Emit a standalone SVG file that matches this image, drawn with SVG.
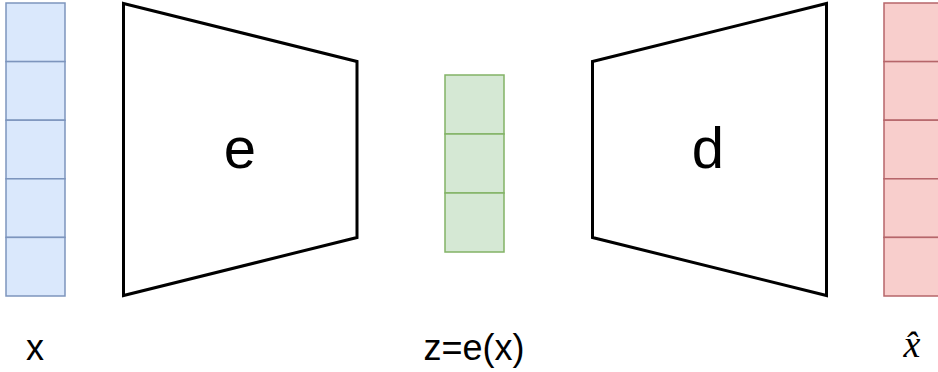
<svg xmlns="http://www.w3.org/2000/svg" width="938" height="372" viewBox="0 0 938 372">
<style>
.blue{fill:#dae8fc;stroke:#7d95bd;stroke-width:1.5}
.green{fill:#d5e8d4;stroke:#82b366;stroke-width:1.5}
.red{fill:#f8cecc;stroke:#b6666a;stroke-width:1.5}
.trap{fill:#ffffff;stroke:#000000;stroke-width:3;stroke-linejoin:miter}
.big{font-family:"Liberation Sans",Arial,sans-serif;font-size:58px;fill:#000;text-anchor:middle}
.lbl{font-family:"Liberation Sans",Arial,sans-serif;font-size:36px;fill:#000;text-anchor:middle}
.math{font-family:"Liberation Serif","Times New Roman",serif;font-style:italic;font-size:38px;fill:#000;text-anchor:middle}
</style>
<rect width="938" height="372" fill="#ffffff"/>
<g id="input-x">
<rect class="blue" x="6" y="3" width="59" height="58.6"/>
<rect class="blue" x="6" y="61.6" width="59" height="58.6"/>
<rect class="blue" x="6" y="120.2" width="59" height="58.6"/>
<rect class="blue" x="6" y="178.8" width="59" height="58.6"/>
<rect class="blue" x="6" y="237.4" width="59" height="58.6"/>
</g>
<g id="encoder">
<polygon class="trap" points="123.5,3.5 357,61.5 357,237.5 123.5,295.5"/>
<text class="big" x="240" y="168">e</text>
</g>
<g id="latent-z">
<rect class="green" x="445" y="75" width="59" height="59"/>
<rect class="green" x="445" y="134" width="59" height="59"/>
<rect class="green" x="445" y="193" width="59" height="59"/>
</g>
<g id="decoder">
<polygon class="trap" points="592.5,61.5 826.5,3.5 826.5,295.5 592.5,237.5"/>
<text class="big" x="708" y="168">d</text>
</g>
<g id="output-xhat">
<rect class="red" x="884" y="3" width="59" height="58.6"/>
<rect class="red" x="884" y="61.6" width="59" height="58.6"/>
<rect class="red" x="884" y="120.2" width="59" height="58.6"/>
<rect class="red" x="884" y="178.8" width="59" height="58.6"/>
<rect class="red" x="884" y="237.4" width="59" height="58.6"/>
</g>
<g id="connectors"></g>
<g id="labels">
<text class="lbl" x="35" y="360">x</text>
<text class="lbl" x="474" y="360">z=e(x)</text>
<text class="math" x="912" y="357">x̂</text>
</g>
</svg>
